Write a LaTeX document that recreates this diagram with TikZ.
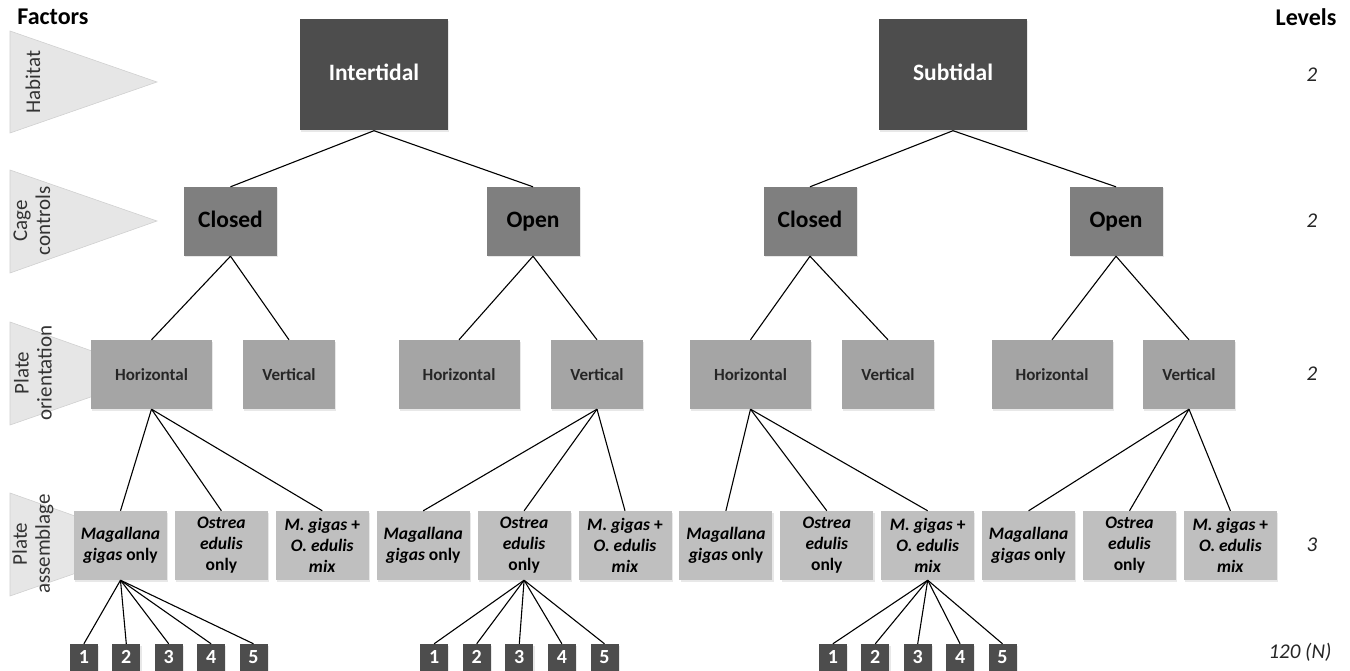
\documentclass[tikz,border=0pt]{standalone}
\usepackage{fontspec}
\setmainfont{Carlito}
\usetikzlibrary{shadows}

\definecolor{habgrey}{HTML}{4D4D4D}
\definecolor{cagegrey}{HTML}{7F7F7F}
\definecolor{orientgrey}{HTML}{A5A5A5}
\definecolor{assemgrey}{HTML}{BFBFBF}
\definecolor{factorfill}{HTML}{E6E6E6}
\definecolor{factoredge}{HTML}{D0D0D0}

\begin{document}
\begin{tikzpicture}[x=1pt,y=-1pt,
        box/.style={rectangle,inner sep=0pt,align=center,
            drop shadow={opacity=0.18,shadow xshift=1.2pt,shadow yshift=-1.5pt}},
        habitatbox/.style={box,fill=habgrey,text=white,minimum width=148pt,minimum height=111pt,
            text height=15pt,text depth=3pt,font=\fontsize{23.5}{27}\selectfont\bfseries},
        cagebox/.style={box,fill=cagegrey,minimum width=93pt,minimum height=69pt,
            text height=15pt,text depth=3pt,font=\fontsize{23.5}{27}\selectfont\bfseries},
        orientbox/.style={box,fill=orientgrey,text=black!85,minimum height=69pt,
            text height=11pt,text depth=0pt,font=\fontsize{17}{20}\selectfont\bfseries},
        assembox/.style={box,fill=assemgrey,minimum width=93pt,minimum height=69pt,
            font=\fontsize{17.5}{21}\selectfont\bfseries},
        platebox/.style={box,fill=habgrey,text=white,minimum width=28pt,minimum height=27pt,
            text height=12.6pt,text depth=0pt,font=\fontsize{20}{22}\selectfont\bfseries},
        factor/.style={fill=factorfill,draw=factoredge,line width=0.6pt},
        factorlabel/.style={rotate=90,align=center,text=black!80,font=\fontsize{21}{23}\selectfont},
        levelnum/.style={text=black!85,font=\fontsize{21}{24}\selectfont\itshape},
        link/.style={line width=1.1pt}]

    \useasboundingbox (0,0) rectangle (1350,671);

    % factors on the left
    \node[font=\fontsize{24}{27}\selectfont\bfseries] (factors) at (53,17) {Factors};
    \draw[factor] (10,31) -- (10,133) -- (157,82) -- cycle;
    \draw[factor] (10,170) -- (10,273) -- (157,221) -- cycle;
    \draw[factor] (10,322) -- (10,425) -- (157,374) -- cycle;
    \draw[factor] (10,493) -- (10,596) -- (157,545) -- cycle;
    \node[factorlabel] (fhab) at (33,82) {Habitat};
    \node[factorlabel] (fcage) at (32,221) {Cage\\controls};
    \node[factorlabel] (forient) at (33,373) {Plate\\orientation};
    \node[factorlabel] (fassem) at (33,544) {Plate\\assemblage};

    % habitat
    \node[habitatbox] (inter) at (374,75) {Intertidal};
    \node[habitatbox] (sub) at (953,75) {Subtidal};

    % cage controls
    \node[cagebox] (closedi) at (230.5,221.5) {Closed};
    \node[cagebox] (openi) at (533,221.5) {Open};
    \node[cagebox] (closeds) at (810,221.5) {Closed};
    \node[cagebox] (opens) at (1116,221.5) {Open};

    % plate orientation
    \node[orientbox,minimum width=121pt] (hori1) at (151.5,374.5) {Horizontal};
    \node[orientbox,minimum width=92pt] (vert1) at (289,374.5) {Vertical};
    \node[orientbox,minimum width=121pt] (hori2) at (459,374.5) {Horizontal};
    \node[orientbox,minimum width=92pt] (vert2) at (597,374.5) {Vertical};
    \node[orientbox,minimum width=121pt] (hori3) at (750.5,374.5) {Horizontal};
    \node[orientbox,minimum width=92pt] (vert3) at (888,374.5) {Vertical};
    \node[orientbox,minimum width=121pt] (hori4) at (1052,374.5) {Horizontal};
    \node[orientbox,minimum width=92pt] (vert4) at (1189,374.5) {Vertical};

    % plate assemblage
    \foreach \i in {0,1,2,3} {
        \node[assembox] (mg\i) at (120.5+302.7*\i,545.5) {\textit{Magallana}\\\textit{gigas} only};
        \node[assembox] (oe\i) at (221.4+302.7*\i,545.5) {\textit{Ostrea}\\\textit{edulis}\\only};
        \node[assembox] (mix\i) at (322.3+302.7*\i,545.5) {\textit{M. gigas} +\\\textit{O. edulis}\\\textit{mix}};
    }

    % replicate plates
    \foreach \n in {1,...,5} {
        \node[platebox] (pa\n) at (41.5+42.4*\n,657.5) {\n};
        \node[platebox] (pb\n) at (391.5+42.6*\n,657.5) {\n};
        \node[platebox] (pc\n) at (790.5+42.4*\n,657.5) {\n};
    }

    % levels on the right
    \node[font=\fontsize{24}{27}\selectfont\bfseries] (levels) at (1306,17) {Levels};
    \node[levelnum] (lhab) at (1312,75) {2};
    \node[levelnum] (lcage) at (1312,221) {2};
    \node[levelnum] (lorient) at (1312,374) {2};
    \node[levelnum] (lassem) at (1312,545) {3};
    \node[levelnum] (ltotal) at (1300,652) {120 (N)};

    % connectors
    \begin{scope}[link]
        \draw (inter.south) -- (closedi.north);
        \draw (inter.south) -- (openi.north);
        \draw (sub.south) -- (closeds.north);
        \draw (sub.south) -- (opens.north);
        \draw (closedi.south) -- (hori1.north);
        \draw (closedi.south) -- (vert1.north);
        \draw (openi.south) -- (hori2.north);
        \draw (openi.south) -- (vert2.north);
        \draw (closeds.south) -- (hori3.north);
        \draw (closeds.south) -- (vert3.north);
        \draw (opens.south) -- (hori4.north);
        \draw (opens.south) -- (vert4.north);
        \foreach \p/\k in {hori1/0,vert2/1,hori3/2,vert4/3} {
            \draw (\p.south) -- (mg\k.north);
            \draw (\p.south) -- (oe\k.north);
            \draw (\p.south) -- (mix\k.north);
        }
        \foreach \n in {1,...,5} {
            \draw (mg0.south) -- (pa\n.north);
            \draw (oe1.south) -- (pb\n.north);
            \draw (mix2.south) -- (pc\n.north);
        }
    \end{scope}
\end{tikzpicture}
\end{document}
